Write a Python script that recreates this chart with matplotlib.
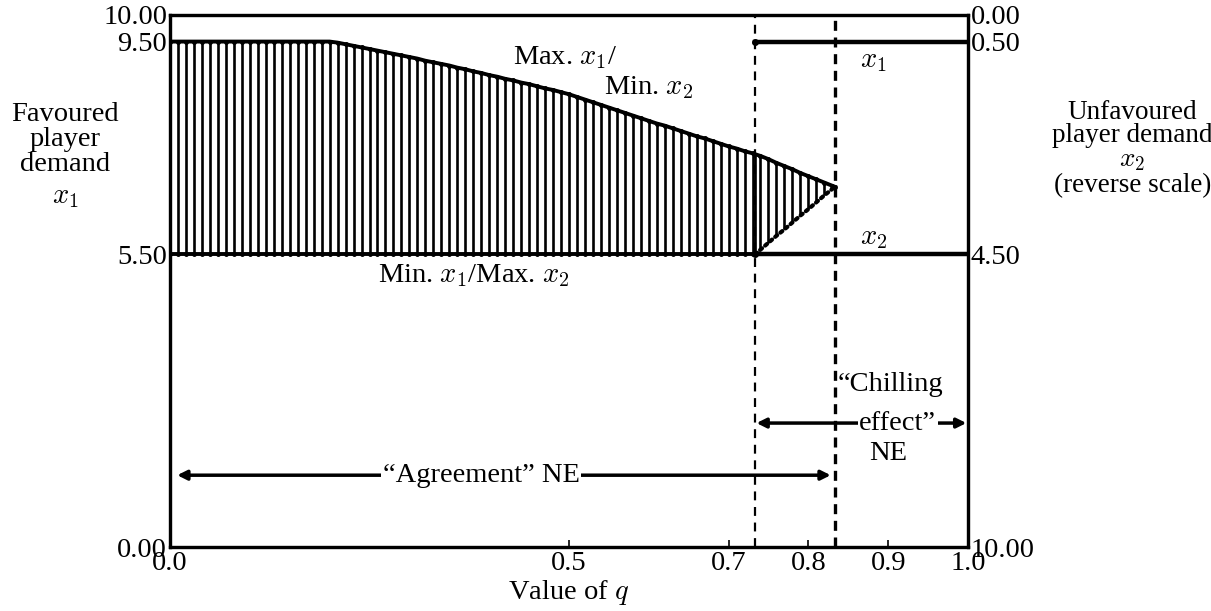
import numpy as np
import matplotlib
matplotlib.use("Agg")
import matplotlib.pyplot as plt

plt.rcParams['font.family'] = ['Liberation Serif', 'DejaVu Serif']
plt.rcParams['mathtext.fontset'] = 'cm'

# q values (step 0.01) and upper bound (max x1 / min x2)
q = np.round(np.arange(0, 84) * 0.01, 2)
upper = [9.50] * 21 + [
    9.48, 9.45, 9.42, 9.39, 9.36, 9.33, 9.30, 9.27, 9.24, 9.21,
    9.18, 9.14, 9.11, 9.08, 9.05, 9.01, 8.98, 8.94, 8.91, 8.87,
    8.84, 8.80, 8.77, 8.73, 8.70, 8.66, 8.62, 8.59, 8.55, 8.51,
    8.46, 8.41, 8.36, 8.31, 8.26, 8.21, 8.16, 8.11, 8.06, 8.01,
    7.96, 7.92, 7.87, 7.82, 7.77, 7.72, 7.68, 7.63, 7.58, 7.53,
    7.49, 7.44, 7.40, 7.35, 7.29, 7.22, 7.16, 7.10, 7.03, 6.97,
    6.91, 6.85, 6.79]
# lower bound (min x1 / max x2)
lower = [5.50] * 74 + [5.59, 5.72, 5.85, 5.97, 6.10, 6.23, 6.35, 6.48, 6.61, 6.73]

q_a = 0.7333   # end of pure agreement region
q_b = 0.8333   # end of agreement NE
peak = 6.77
x1_chill = 9.50
x2_chill = 5.50

left_ticks = [0.0, 5.5, 9.5, 10.0]
right_ticks = [0.0, 0.5, 4.5, 10.0]
x_ticks = [0.0, 0.5, 0.7, 0.8, 0.9, 1.0]

fig = plt.figure(figsize=(12.11, 6.11), dpi=100)
ax = fig.add_axes([0.1404, 0.1047, 0.6589, 0.8708])

# hatching
ax.vlines(q[1:], lower[1:], upper[1:], colors='black', lw=1.9)
ax.vlines(q_a, 5.5, 7.38, colors='black', lw=1.9)

# curves
qu = list(q) + [q_b]
ax.plot(qu, upper + [peak], color='black', lw=2.8, marker='o', ms=2.5)
ax.plot(list(q[:74]) + [q_a], lower[:74] + [5.5], color='black', lw=2.8, marker='o', ms=2.5)
ax.plot([q_a] + list(q[74:]) + [q_b], [5.5] + lower[74:] + [peak], color='black',
        lw=3, ls=(0, (0.6, 1.0)), dash_capstyle='round')

# chilling effect demands
ax.plot([q_a, 1.0], [x1_chill, x1_chill], color='black', lw=3.2)
ax.plot([q_a, 1.0], [x2_chill, x2_chill], color='black', lw=3.2)
ax.plot(q_a, x1_chill, 'ko', ms=4)
ax.plot(q_a, x2_chill, 'ko', ms=4)

# dashed boundaries
ax.axvline(q_a, color='black', lw=1.6, ls=(0, (4, 3)))
ax.axvline(q_b, color='black', lw=2.4, ls=(0, (3, 2)))

# arrows
arrow = dict(arrowstyle='<|-|>', lw=2.5, color='black', mutation_scale=14,
             shrinkA=0, shrinkB=0)
ax.annotate('', xy=(0.009, 1.35), xytext=(0.828, 1.35), arrowprops=arrow)
ax.annotate('', xy=(0.735, 2.33), xytext=(0.998, 2.33), arrowprops=arrow)

fs = 20.5
ax.text(0.39, 1.35, '\u201cAgreement\u201d NE', ha='center', va='center', fontsize=fs,
        bbox=dict(fc='white', ec='none', pad=1))
ax.text(0.903, 3.05, '\u201cChilling', ha='center', va='center', fontsize=fs)
ax.text(0.912, 2.33, 'effect\u201d', ha='center', va='center', fontsize=fs,
        bbox=dict(fc='white', ec='none', pad=1))
ax.text(0.9, 1.75, 'NE', ha='center', va='center', fontsize=fs)

ax.text(0.495, 9.19, r'Max. $x_1$/', ha='center', va='center', fontsize=fs)
ax.text(0.60, 8.63, r'Min. $x_2$', ha='center', va='center', fontsize=fs)
ax.text(0.38, 5.11, r'Min. $x_1$/Max. $x_2$', ha='center', va='center', fontsize=fs)
ax.text(0.882, 9.13, r'$x_1$', ha='center', va='center', fontsize=fs)
ax.text(0.882, 5.8, r'$x_2$', ha='center', va='center', fontsize=fs)

ax.set_xlim(0, 1)
ax.set_ylim(0, 10)
ax.set_xticks(x_ticks)
ax.set_xticklabels(['%.1f' % t for t in x_ticks])
ax.set_yticks(left_ticks)
ax.set_yticklabels(['%.2f' % t for t in left_ticks])
ax.tick_params(direction='in', length=5, width=1.2, labelsize=fs, pad=3)
ax.tick_params(axis='y', length=0, pad=2)
for s in ax.spines.values():
    s.set_linewidth(2.3)

ax2 = ax.twinx()
ax2.set_ylim(10, 0)
ax2.set_yticks(right_ticks)
ax2.set_yticklabels(['%.2f' % t for t in right_ticks])
ax2.tick_params(direction='in', length=0, labelsize=fs, pad=2)
for s in ax2.spines.values():
    s.set_linewidth(2.3)

ax.set_xlabel(r'Value of $q$', fontsize=fs, labelpad=1)
fig.text(0.054, 0.771, 'Favoured\nplayer\ndemand', ha='center', va='center', fontsize=fs,
         linespacing=1.0)
fig.text(0.054, 0.677, r'$x_1$', ha='center', va='center', fontsize=fs)
fig.text(0.935, 0.797, 'Unfavoured\nplayer demand', ha='center', va='center', fontsize=19.5,
         linespacing=0.85)
fig.text(0.935, 0.738, r'$x_2$', ha='center', va='center', fontsize=19.5)
fig.text(0.935, 0.697, '(reverse scale)', ha='center', va='center', fontsize=19.5)

fig.savefig('out.png', dpi=100)
